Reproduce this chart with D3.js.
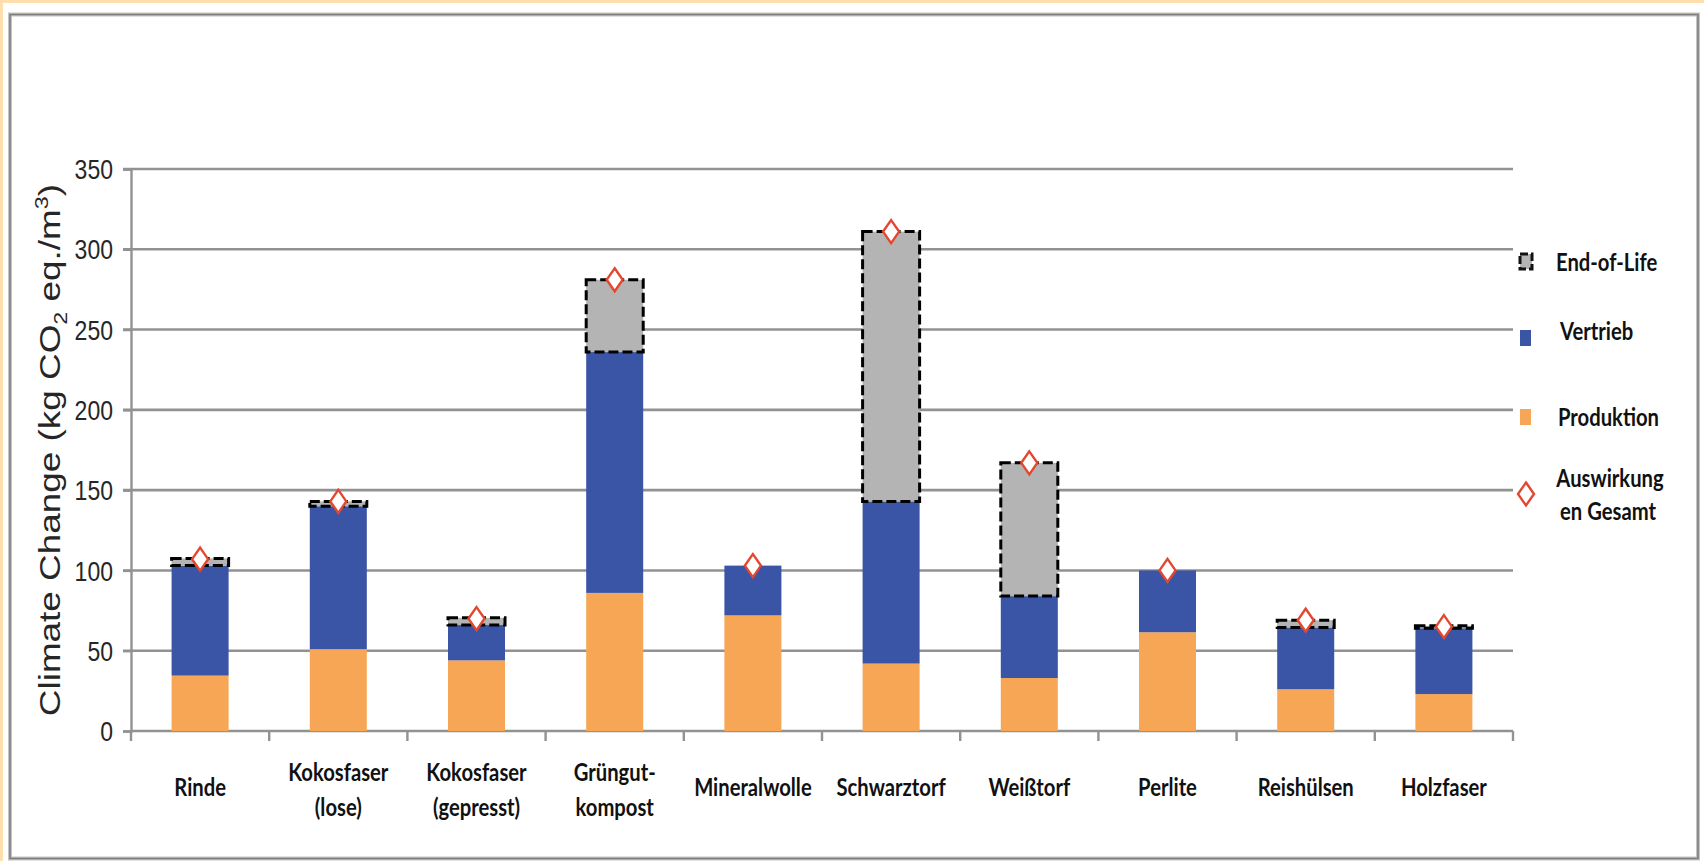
<!DOCTYPE html>
<html>
<head>
<meta charset="utf-8">
<script src="https://cdn.jsdelivr.net/npm/d3@7"></script>
<style>
  html, body { margin: 0; padding: 0; background: #fff; }
  svg { display: block; }
</style>
</head>
<body>
<svg id="chart" width="1704" height="861"></svg>
<script>
// Substrate categories (each entry is one label, split into lines)
const categories = ["Rinde", "Kokosfaser (lose)", "Kokosfaser (gepresst)", "Grüngut-kompost",
  "Mineralwolle", "Schwarztorf", "Weißtorf", "Perlite", "Reishülsen", "Holzfaser"];
const categoryLines = [["Rinde"], ["Kokosfaser", "(lose)"], ["Kokosfaser", "(gepresst)"], ["Grüngut-", "kompost"],
  ["Mineralwolle"], ["Schwarztorf"], ["Weißtorf"], ["Perlite"], ["Reishülsen"], ["Holzfaser"]];

// Stacked contributions, kg CO2 eq. per m³
const produktion = [34.5, 51, 44, 86, 72, 42, 33, 61.5, 26, 23];
const vertrieb   = [68.5, 89, 22, 150, 31, 101, 51, 38.5, 38.5, 41];
const endOfLife  = [4.5, 3, 4.5, 45, 0, 168, 83, 0, 4.5, 1.5];
// Total impact markers
const gesamt     = [107, 143, 70, 281, 103, 311, 167, 100, 69, 65];

const yTicks = [0, 50, 100, 150, 200, 250, 300, 350];
const legendLabels = ["End-of-Life", "Vertrieb", "Produktion", ["Auswirkung", "en Gesamt"]];

const colors = { produktion: "#F6A655", vertrieb: "#3A55A6", endOfLife: "#B4B4B4", marker: "#E4472F" };

const svg = d3.select("#chart");

// Frame: peach page edge, white card with grey border
svg.append("rect").attr("x", 0).attr("y", 0).attr("width", 1704).attr("height", 861).attr("fill", "#FFDFAE");
svg.append("rect").attr("x", 3).attr("y", 3).attr("width", 1701).attr("height", 858).attr("fill", "#fff");
svg.append("rect").attr("x", 10).attr("y", 14.5).attr("width", 1688).attr("height", 844)
  .attr("fill", "none").attr("stroke", "#C4C4C4").attr("stroke-width", 4);
svg.append("rect").attr("x", 10).attr("y", 14.5).attr("width", 1688).attr("height", 844)
  .attr("fill", "none").attr("stroke", "#7E7E7E").attr("stroke-width", 1.6);

const plot = { left: 131, right: 1513, top: 169, bottom: 731 };

const x = d3.scaleBand().domain(categories).range([plot.left, plot.right])
  .paddingInner(0.5875).paddingOuter(0.29375);
const y = d3.scaleLinear().domain([0, 350]).range([plot.bottom, plot.top]);

const gridColor = "#929292";

// Horizontal gridlines with left ticks
svg.append("g").selectAll("line").data(yTicks.filter(d => d > 0)).join("line")
  .attr("x1", plot.left - 8).attr("x2", plot.right)
  .attr("y1", d => y(d)).attr("y2", d => y(d))
  .attr("stroke", gridColor).attr("stroke-width", 2.6);

// Y axis line, ticks and labels
const yAxis = svg.append("g").attr("transform", `translate(${plot.left},0)`)
  .call(d3.axisLeft(y).tickValues(yTicks).tickSize(8).tickFormat(d3.format("d")));
yAxis.select(".domain").attr("stroke", gridColor).attr("stroke-width", 2.4);
yAxis.selectAll(".tick line").attr("stroke", gridColor).attr("stroke-width", 2.4);
yAxis.selectAll(".tick text")
  .attr("font-family", "'Liberation Sans', Arial, sans-serif")
  .attr("font-size", 24).attr("fill", "#262626")
  .attr("x", null).attr("dy", null)
  .attr("dominant-baseline", "central")
  .attr("transform", "translate(-18,0) scale(0.96,1.12)");

// X axis baseline with ticks at category boundaries
const step = x.step();
const boundaries = categories.map(c => x(c) - (step - x.bandwidth()) / 2).concat([plot.right]);
svg.append("line").attr("x1", plot.left).attr("x2", plot.right)
  .attr("y1", y(0)).attr("y2", y(0)).attr("stroke", gridColor).attr("stroke-width", 2.6);
svg.append("g").selectAll("line").data(boundaries).join("line")
  .attr("x1", d => d).attr("x2", d => d).attr("y1", y(0)).attr("y2", y(0) + 10)
  .attr("stroke", gridColor).attr("stroke-width", 2.4);

// Stacked bars
const rows = categories.map((c, i) => ({
  c, p: produktion[i], v: vertrieb[i], e: endOfLife[i], g: gesamt[i]
}));
const bars = svg.append("g");
bars.selectAll(".prod").data(rows).join("rect").attr("class", "prod")
  .attr("x", d => x(d.c)).attr("width", x.bandwidth())
  .attr("y", d => y(d.p)).attr("height", d => y(0) - y(d.p))
  .attr("fill", colors.produktion);
bars.selectAll(".vert").data(rows).join("rect").attr("class", "vert")
  .attr("x", d => x(d.c)).attr("width", x.bandwidth())
  .attr("y", d => y(d.p + d.v)).attr("height", d => y(d.p) - y(d.p + d.v))
  .attr("fill", colors.vertrieb);
bars.selectAll(".eol").data(rows.filter(d => d.e > 0)).join("rect").attr("class", "eol")
  .attr("x", d => x(d.c)).attr("width", x.bandwidth())
  .attr("y", d => y(d.p + d.v + d.e)).attr("height", d => y(d.p + d.v) - y(d.p + d.v + d.e))
  .attr("fill", colors.endOfLife).attr("stroke", "#000").attr("stroke-width", 3)
  .attr("stroke-dasharray", "10,4");

// Total markers (diamonds)
const diamond = "M0,-11.5L8,0L0,11.5L-8,0Z";
svg.append("g").selectAll("path").data(rows).join("path")
  .attr("d", diamond)
  .attr("transform", d => `translate(${x(d.c) + x.bandwidth() / 2},${y(d.g)})`)
  .attr("fill", "#fff").attr("stroke", colors.marker).attr("stroke-width", 2.4);

// Category labels
const labelFont = "Lato, 'Open Sans', sans-serif";
const labelScale = "scale(0.92,1.12)";
const xl = svg.append("g");
rows.forEach((d, i) => {
  const lines = categoryLines[i];
  const cx = x(d.c) + x.bandwidth() / 2;
  const y0 = lines.length === 1 ? 787 : 772;
  lines.forEach((t, j) => {
    xl.append("text")
      .attr("transform", `translate(${cx},${y0 + j * 35}) ${labelScale}`)
      .attr("text-anchor", "middle").attr("dominant-baseline", "central")
      .attr("font-family", labelFont).attr("font-weight", 700).attr("font-size", 22)
      .attr("fill", "#111").text(t);
  });
});

// Y axis title
const title = svg.append("text")
  .attr("transform", "translate(60,450) rotate(-90) scale(1.23,1)")
  .attr("text-anchor", "middle")
  .attr("font-family", "'Liberation Sans', Arial, sans-serif")
  .attr("font-size", 30).attr("fill", "#262626");
title.append("tspan").text("Climate Change (kg CO");
title.append("tspan").attr("font-size", 19).attr("dy", 7).text("2");
title.append("tspan").attr("dy", -7).text(" eq./m");
title.append("tspan").attr("font-size", 19).attr("dy", -12).text("3");
title.append("tspan").attr("dy", 12).text(")");

// Legend
const legend = svg.append("g");
const lx = 1526;
const legendY = [262, 331, 417, 494];
legend.append("rect").attr("x", lx - 6).attr("y", legendY[0] - 8).attr("width", 12).attr("height", 15)
  .attr("fill", colors.endOfLife).attr("stroke", "#111").attr("stroke-width", 3).attr("stroke-dasharray", "8,3");
legend.append("rect").attr("x", lx - 6).attr("y", legendY[1] - 1).attr("width", 11).attr("height", 16)
  .attr("fill", colors.vertrieb);
legend.append("rect").attr("x", lx - 6).attr("y", legendY[2] - 8).attr("width", 11).attr("height", 16)
  .attr("fill", colors.produktion);
legend.append("path").attr("d", diamond)
  .attr("transform", `translate(${lx},${legendY[3]})`)
  .attr("fill", "#fff").attr("stroke", colors.marker).attr("stroke-width", 2.4);

const legendText = (t, tx, ty, anchor) => legend.append("text")
  .attr("transform", `translate(${tx},${ty}) ${labelScale}`)
  .attr("text-anchor", anchor).attr("dominant-baseline", "central")
  .attr("font-family", labelFont).attr("font-weight", 700).attr("font-size", 22)
  .attr("fill", "#111").text(t);
legendText(legendLabels[0], 1556, 262, "start");
legendText(legendLabels[1], 1560, 331, "start");
legendText(legendLabels[2], 1558, 417, "start");
legendText(legendLabels[3][0], 1610, 478, "middle");
legendText(legendLabels[3][1], 1608, 511, "middle");
</script>
</body>
</html>
